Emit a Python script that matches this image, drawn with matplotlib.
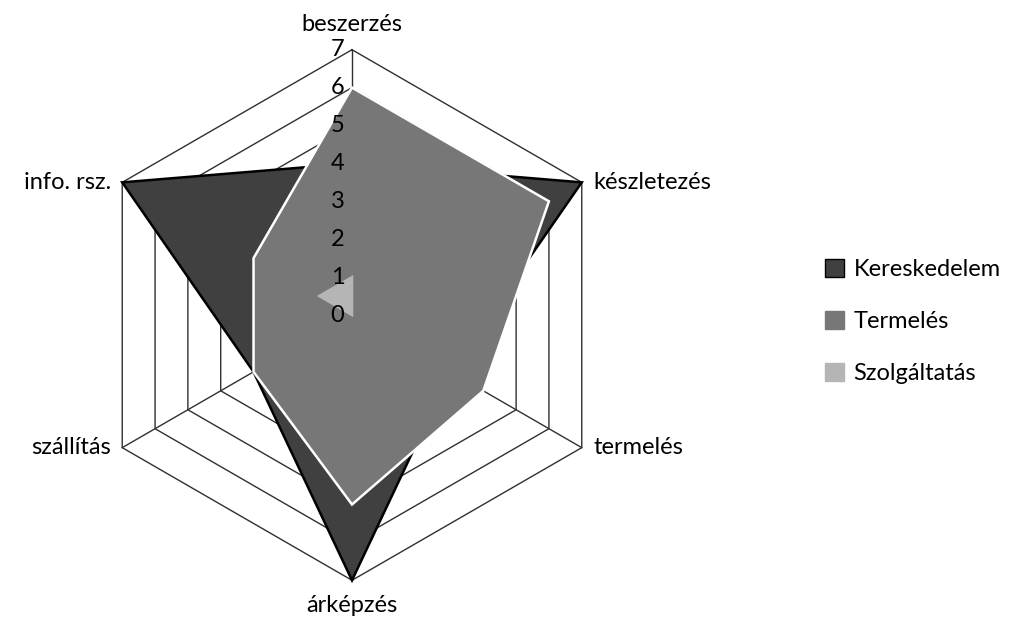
import numpy as np
import matplotlib
matplotlib.use("Agg")
import matplotlib.pyplot as plt
from matplotlib.patches import Patch

categories = ["beszerzés", "készletezés", "termelés", "árképzés", "szállítás", "info. rsz."]
kereskedelem = [4, 7, 3, 7, 3, 7]
termeles = [6, 6, 4, 5, 3, 3]
szolgaltatas = [1, 0, 0, 0, 0, 1]
rticks = [0, 1, 2, 3, 4, 5, 6, 7]

plt.rcParams['font.family'] = ['Lato', 'DejaVu Sans']
W, H = 1024, 630
unit = 37.9
cx, cy = 352, 315
fig = plt.figure(figsize=(W/100, H/100), dpi=100)
ax = fig.add_axes([0, 0, 1, 1])
ax.set_xlim(-cx/unit, (W-cx)/unit)
ax.set_ylim(-(H-cy)/unit, cy/unit)
ax.axis('off')

ang = np.deg2rad(90 - 60*np.arange(len(categories)))

def xy(vals):
    v = np.asarray(vals, float)
    x = v*np.cos(ang); y = v*np.sin(ang)
    return np.append(x, x[0]), np.append(y, y[0])

for r in rticks[1:]:
    x, y = xy([r]*6)
    ax.plot(x, y, color='#303030', lw=1.0, zorder=1)
for a in ang:
    ax.plot([0, 7*np.cos(a)], [0, 7*np.sin(a)], color='#303030', lw=1.0, zorder=1)

series = [("Kereskedelem", kereskedelem, '#404040', 'black'),
          ("Termelés", termeles, '#777777', 'white'),
          ("Szolgáltatás", szolgaltatas, '#b5b5b5', '#b5b5b5')]
for i, (name, vals, fc, ec) in enumerate(series):
    x, y = xy(vals)
    ax.fill(x, y, facecolor=fc, edgecolor=ec, lw=1.8, zorder=2+i)

for r in rticks:
    ax.text(-0.2, r, str(r), ha='right', va='center', fontsize=17, zorder=10)

offs = [(0, 0.4, 'center', 'bottom'), (0.3, 0, 'left', 'center'), (0.3, 0, 'left', 'center'),
        (0, -0.4, 'center', 'top'), (-0.3, 0, 'right', 'center'), (-0.3, 0, 'right', 'center')]
for c, a, (dx, dy, ha, va) in zip(categories, ang, offs):
    ax.text(7*np.cos(a)+dx, 7*np.sin(a)+dy, c, ha=ha, va=va, fontsize=17)

handles = [Patch(facecolor=fc, edgecolor='black' if i == 0 else fc, label=n)
           for i, (n, v, fc, ec) in enumerate(series)]
fig.legend(handles=handles, loc='center left', bbox_to_anchor=(0.785, 0.49),
           frameon=False, fontsize=17, handlelength=0.8, handleheight=0.8,
           labelspacing=1.3, handletextpad=0.4)
fig.savefig("out.png", dpi=100, facecolor='white')
